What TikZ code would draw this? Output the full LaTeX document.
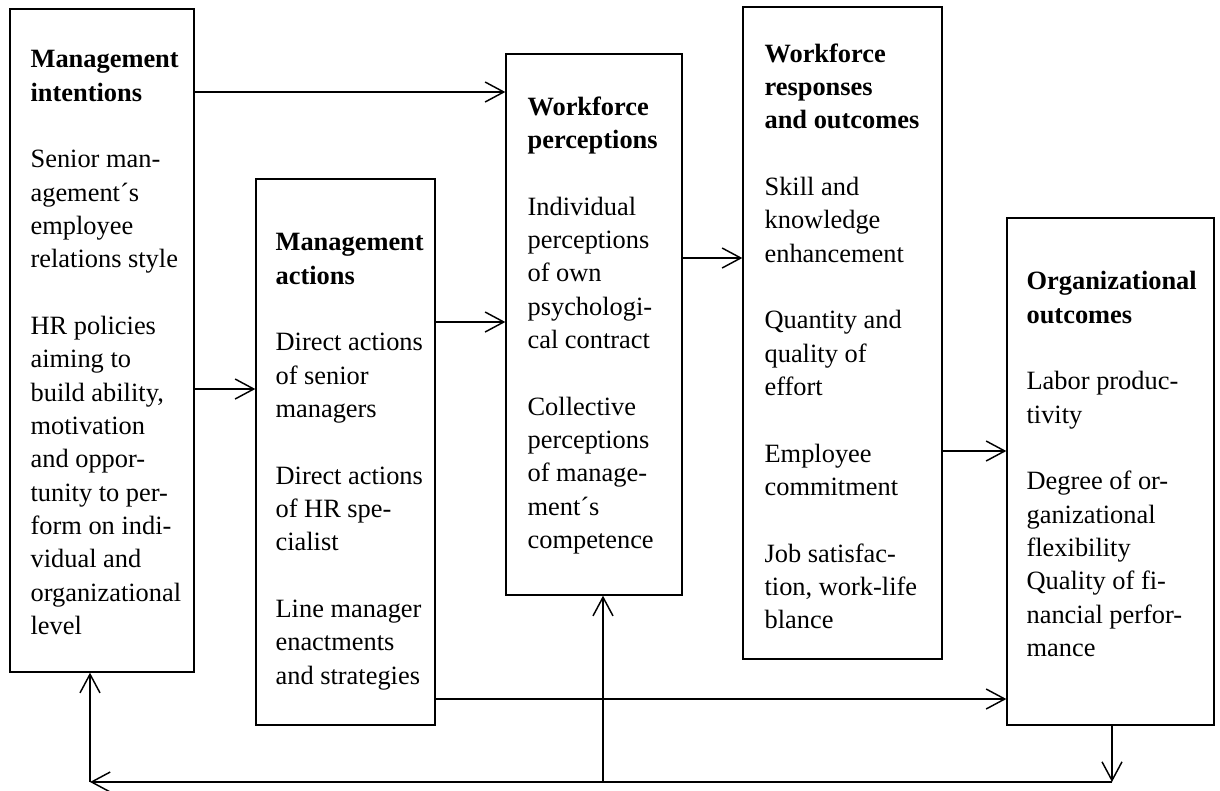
\documentclass[tikz,border=0pt]{standalone}
\usepackage{fontspec}
\setmainfont{Liberation Serif}
\usetikzlibrary{positioning,fit,arrows.meta}

\tikzset{
  box/.style={draw, line width=1pt, inner sep=0pt},
  boxtext/.style={align=left, inner sep=0pt, font=\fontsize{19.8pt}{25pt}\selectfont},
  flow/.style={->, line width=1.1pt},
}

\begin{document}
\begin{tikzpicture}[x=0.75pt, y=-0.75pt, >={Straight Barb[length=14pt,width=15pt]}]
\useasboundingbox (0,0) rectangle (1220,790);
%\draw[help lines, step=50] (0,0) grid (1220,790);
% the five boxes
\node[box, fit={(10,9) (194,672)}] (mi) {};
\node[box, fit={(256,179) (435,725)}] (ma) {};
\node[box, fit={(506,54) (682,595)}] (wp) {};
\node[box, fit={(743,7) (942,659)}] (wr) {};
\node[box, fit={(1007,218) (1214,725)}] (oo) {};

\node[boxtext, below right=31.5pt and 15.75pt of mi.north west] (mitext)
  {\textbf{Management}\\ \textbf{intentions}\\[25pt]
   Senior man-\\ agement´s\\ employee\\ relations style\\[25pt]
   HR policies\\ aiming to\\ build ability,\\ motivation\\ and oppor-\\
   tunity to per-\\ form on indi-\\ vidual and\\ organizational\\ level};
\node[boxtext, below right=41.25pt and 15pt of ma.north west] (matext)
  {\textbf{Management}\\ \textbf{actions}\\[25pt]
   Direct actions\\ of senior\\ managers\\[25pt]
   Direct actions\\ of HR spe-\\ cialist\\[25pt]
   Line manager\\ enactments\\ and strategies};
\node[boxtext, below right=32.25pt and 16.5pt of wp.north west] (wptext)
  {\textbf{Workforce}\\ \textbf{perceptions}\\[25pt]
   Individual\\ perceptions\\ of own\\ psychologi-\\ cal contract\\[25pt]
   Collective\\ perceptions\\ of manage-\\ ment´s\\ competence};
\node[boxtext, below right=27.75pt and 16.5pt of wr.north west] (wrtext)
  {\textbf{Workforce}\\ \textbf{responses}\\ \textbf{and outcomes}\\[25pt]
   Skill and\\ knowledge\\ enhancement\\[25pt]
   Quantity and\\ quality of\\ effort\\[25pt]
   Employee\\ commitment\\[25pt]
   Job satisfac-\\ tion, work-life\\ blance};
\node[boxtext, below right=40.5pt and 15pt of oo.north west] (ootext)
  {\textbf{Organizational}\\ \textbf{outcomes}\\[25pt]
   Labor produc-\\ tivity\\[25pt]
   Degree of or-\\ ganizational\\ flexibility\\
   Quality of fi-\\ nancial perfor-\\ mance};

% forward arrows
\coordinate (r1) at (0,92);
\coordinate (r2) at (0,389);
\coordinate (r3) at (0,322);
\coordinate (r4) at (0,258);
\coordinate (r5) at (0,451);
\coordinate (r6) at (0,699);
\draw[flow] (mi.east |- r1) -- (wp.west |- r1);
\draw[flow] (mi.east |- r2) -- (ma.west |- r2);
\draw[flow] (ma.east |- r3) -- (wp.west |- r3);
\draw[flow] (wp.east |- r4) -- (wr.west |- r4);
\draw[flow] (wr.east |- r5) -- (oo.west |- r5);
\draw[flow] (ma.east |- r6) -- (oo.west |- r6);

% feedback loop
\coordinate (fbR) at (1112,782);
\coordinate (fbM) at (603,782);
\coordinate (fbL) at (90,782);
\draw[flow] (oo.south -| fbR) -- (fbR);
\draw[flow] (fbR) -- (fbL);
\draw[flow] (fbL) -- (mi.south -| fbL);
\draw[flow] (fbM) -- (wp.south -| fbM);
\end{tikzpicture}
\end{document}
